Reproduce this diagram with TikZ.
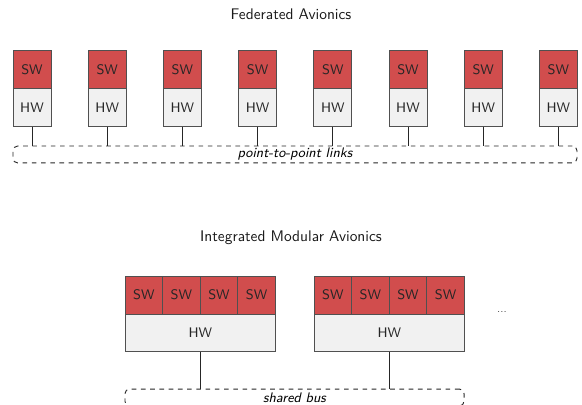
\documentclass[tikz,border=0pt]{standalone}
\usetikzlibrary{positioning}
\definecolor{swred}{RGB}{209,77,77}
\definecolor{hwgray}{RGB}{241,241,241}
\definecolor{edgegray}{RGB}{80,80,80}
\tikzset{
  cell/.style={draw=edgegray, line width=0.6pt, inner sep=0pt, outer sep=0pt, font=\sffamily\small, text=black!85},
  swcell/.style={cell, fill=swred, minimum width=24.7pt, minimum height=24.7pt},
  hwcell/.style={cell, fill=hwgray, minimum width=24.7pt, minimum height=24.7pt},
  hwwide/.style={cell, fill=hwgray, minimum width=97.9pt, minimum height=24.4pt},
  link/.style={black!85, line width=0.6pt},
  bus/.style={draw=black!85, dashed, line width=0.6pt, rounded corners=3pt, inner sep=0pt, minimum height=11pt, font=\sffamily\small\itshape},
  heading/.style={font=\sffamily, text=black!90}
}
\begin{document}
\begin{tikzpicture}[x=0.65pt,y=-0.65pt]
			\useasboundingbox (0,0) rectangle (582,405);
			\node[heading] (fedtitle) at (291,14) {Federated Avionics};
			\node[bus, minimum width=366.6pt] (p2p) at (295,154.5) {point-to-point links};
			\foreach \i in {0,...,7}{
				\node[swcell] (sw\i) at (32+75.2*\i,69.7) {SW};
				\node[hwcell, below=0pt of sw\i] (hw\i) {HW};
				\draw[link] (hw\i.south) -- (hw\i.south |- p2p.north);
			}
			\node[heading] (imatitle) at (291,238) {Integrated Modular Avionics};
			\node[bus, minimum width=220.4pt] (shared) at (294.5,397.5) {shared bus};
			\foreach \m\x in {a/125,b/314}{
				\foreach \j in {0,...,3}{
					\node[swcell, minimum width=24.45pt] (sw\m\j) at (\x+18.8+37.6*\j,295.1) {SW};
				}
				\node[hwwide] (hw\m) at (\x+75.3,333) {HW};
				\draw[link] (hw\m.south) -- (hw\m.south |- shared.north);
			}
			\node[font=\sffamily\scriptsize, text=black!70] (more) at (502,312) {...};
		\end{tikzpicture}
\end{document}
